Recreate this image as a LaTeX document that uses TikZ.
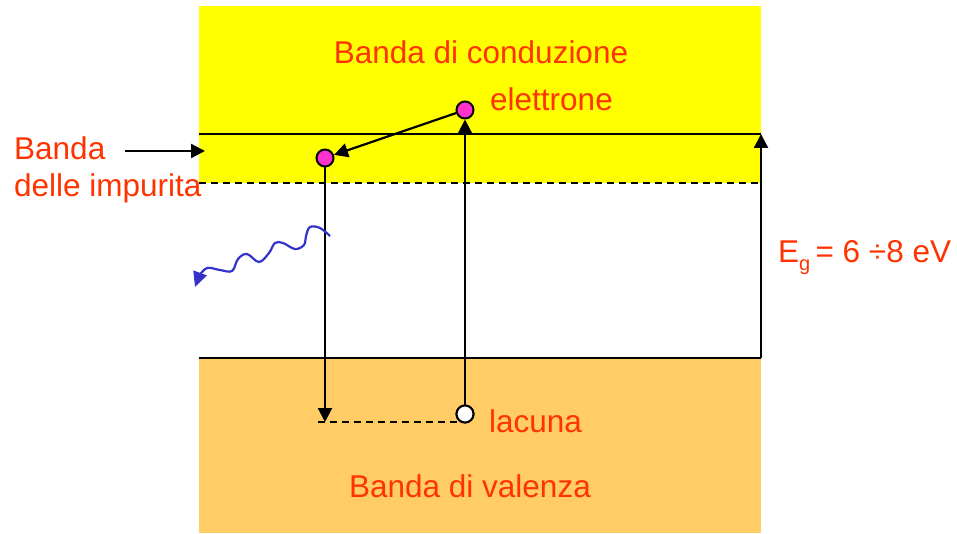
\documentclass[tikz,border=0pt]{standalone}
\usepackage{fontspec}
\setmainfont{Liberation Sans}
\usetikzlibrary{arrows.meta}
\definecolor{band1}{HTML}{FFFF00}
\definecolor{band2}{HTML}{FFCC66}
\definecolor{txtred}{HTML}{FF3300}
\definecolor{pinkdot}{HTML}{FF33CC}
\definecolor{wave}{HTML}{3333CC}
\tikzset{
  lbl/.style={text=txtred, font=\fontsize{31.5}{36}\selectfont, inner sep=0pt},
  dot/.style={circle, draw=black, line width=2pt, minimum size=17pt, inner sep=0pt},
  ln/.style={line width=2.2pt, draw=black},
  arr/.style={ln, -{Triangle[length=14pt,width=14pt]}},
}
\begin{document}
\begin{tikzpicture}[x=1pt,y=-1pt]
\useasboundingbox (0,0) rectangle (957,534);
% bands
\fill[band1] (199,6) rectangle (761,183);
\fill[band2] (199,358) rectangle (761,533);
% levels
\draw[ln] (199,134) -- (761,134);
\draw[ln, dash pattern=on 7pt off 5pt] (199,183) -- (761,183);
\draw[ln] (199,358) -- (761,358);
% Eg arrow
\coordinate (egb) at (761,358);
\coordinate (egt) at (761,134);
\draw[arr] (egb) -- (egt);
% dots
\node[dot, fill=pinkdot] (el) at (465,110) {};
\node[dot, fill=pinkdot] (imp) at (325,158) {};
\node[dot, fill=white] (hole) at (465,414) {};
\coordinate (bot) at (325,422);
\coordinate (dl) at (318,422);
% connectors
\draw[arr] (hole) -- (el);
\draw[arr] (el) -- (imp);
\draw[arr] (imp) -- (bot);
\draw[ln, dash pattern=on 7pt off 5pt] (dl) -- (dl -| hole);
% Banda arrow
\coordinate (ba) at (125,151);
\coordinate (bb) at (205,151);
\draw[arr] (ba) -- (bb);
% wavy photon
\draw[wave, line width=2.2pt, -{Triangle[length=15pt,width=14pt]}]
  plot[smooth, tension=0.6] coordinates {(330,236) (320,228) (310,227) (306,236) (304,245) (295,249) (283,243) (275,243) (269,253) (259,262) (247,254) (238,259) (232,271) (220,270) (207,268) (199,276)} -- (195,287);
% labels
\node[lbl, anchor=base] (t1) at (481,64) {Banda di conduzione};
\node[lbl, anchor=base] (t2) at (470,497) {Banda di valenza};
\node[lbl, anchor=base west] (t3) at (490,111) {elettrone};
\node[lbl, anchor=base west] (t4) at (489,432) {lacuna};
\node[lbl, anchor=base west] (t5) at (14,160) {Banda};
\node[lbl, anchor=base west] (t6) at (14,197) {delle impurita};
\node[lbl, anchor=base west] (t7) at (778,263) {E\raisebox{-0.45ex}{\fontsize{20}{22}\selectfont g}\,= 6 ÷8 eV};
% redraw hole on top of dashed line
\node[dot, fill=white] at (hole) {};
\end{tikzpicture}
\end{document}
